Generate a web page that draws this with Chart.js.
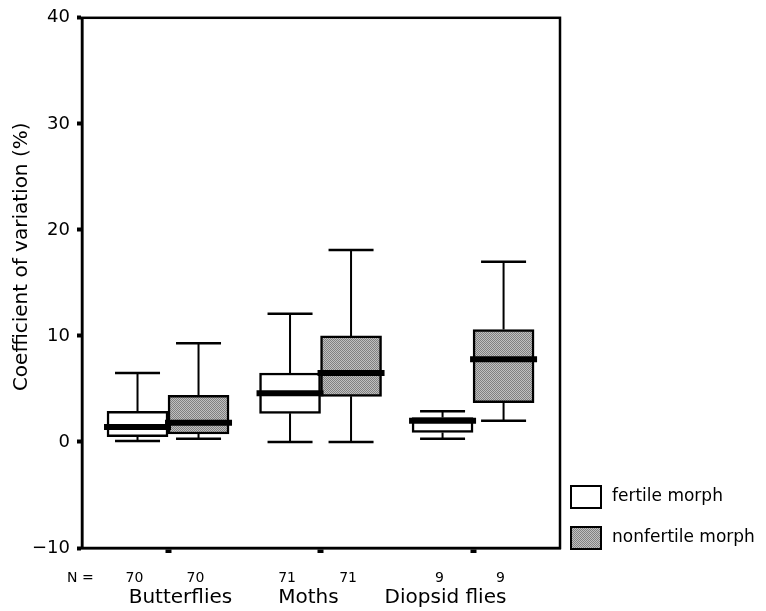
<!DOCTYPE html>
<html>
<head>
<meta charset="utf-8">
<script src="https://cdn.jsdelivr.net/npm/chart.js@4.4.1/dist/chart.umd.min.js"></script>
<style>
  html, body { margin: 0; padding: 0; background: #fff; }
  canvas { display: block; }
</style>
</head>
<body>
<canvas id="chart" width="766" height="611"></canvas>
<script>
// ---------------------------------------------------------------
// datos
// ---------------------------------------------------------------
const categories = ['Butterflies', 'Moths', 'Diopsid flies'];
const seriesNames = ['fertile morph', 'nonfertile morph'];

const fertileMin    = [0.1, 0.0, 0.3];
const fertileQ1     = [0.5, 2.7, 0.9];
const fertileMedian = [1.4, 4.6, 2.0];
const fertileQ3     = [2.9, 6.5, 2.3];
const fertileMax    = [6.5, 12.1, 2.9];

const nonfertileMin    = [0.3, 0.0, 2.0];
const nonfertileQ1     = [0.75, 4.3, 3.7];
const nonfertileMedian = [1.8, 6.5, 7.8];
const nonfertileQ3     = [4.4, 10.0, 10.6];
const nonfertileMax    = [9.3, 18.1, 17.0];

const fertileN    = [70, 71, 9];
const nonfertileN = [70, 71, 9];

const yMin = -10, yMax = 40, yStep = 10;

// ---------------------------------------------------------------
// estilo
// ---------------------------------------------------------------
const FONT = "'DejaVu Sans', sans-serif";
const BOX_W = 61;
const CAP_W = 45;
const OFFSET = 0.2;   // desplazamiento de cada caja respecto al centro del grupo

function makeGrayPattern() {
    const c = document.createElement('canvas');
    c.width = 2; c.height = 2;
    const g = c.getContext('2d');
    g.fillStyle = '#c0c0c0'; g.fillRect(0, 0, 2, 2);
    g.fillStyle = '#808080'; g.fillRect(0, 0, 1, 1); g.fillRect(1, 1, 1, 1);
    return document.getElementById('chart').getContext('2d').createPattern(c, 'repeat');
}
const GRAY = makeGrayPattern();

const boxes = [
    { min: fertileMin, q1: fertileQ1, med: fertileMedian, q3: fertileQ3, max: fertileMax, n: fertileN, dx: -OFFSET, fill: '#ffffff' },
    { min: nonfertileMin, q1: nonfertileQ1, med: nonfertileMedian, q3: nonfertileQ3, max: nonfertileMax, n: nonfertileN, dx: OFFSET, fill: GRAY }
];

// ---------------------------------------------------------------
// bigotes, medianas, marco, textos y leyenda
// ---------------------------------------------------------------
const boxplotPlugin = {
    id: 'boxplotExtras',
    afterDatasetsDraw(chart) {
        const ctx = chart.ctx;
        const xs = chart.scales.x, ys = chart.scales.y;
        ctx.save();
        ctx.strokeStyle = '#000';
        ctx.lineCap = 'butt';
        // bigotes
        boxes.forEach(b => {
            categories.forEach((c, i) => {
                const cx = xs.getPixelForValue(i + b.dx);
                const yMaxPx = ys.getPixelForValue(b.max[i]);
                const yMinPx = ys.getPixelForValue(b.min[i]);
                ctx.lineWidth = 2;
                ctx.beginPath();
                ctx.moveTo(cx, ys.getPixelForValue(b.q3[i]));
                ctx.lineTo(cx, yMaxPx);
                ctx.moveTo(cx, ys.getPixelForValue(b.q1[i]));
                ctx.lineTo(cx, yMinPx);
                ctx.stroke();
                ctx.lineWidth = 2.5;
                ctx.beginPath();
                ctx.moveTo(cx - CAP_W / 2, yMaxPx);
                ctx.lineTo(cx + CAP_W / 2, yMaxPx);
                ctx.moveTo(cx - CAP_W / 2, yMinPx);
                ctx.lineTo(cx + CAP_W / 2, yMinPx);
                ctx.stroke();
            });
        });
        // medianas
        boxes.forEach(b => {
            categories.forEach((c, i) => {
                const cx = xs.getPixelForValue(i + b.dx);
                const y = ys.getPixelForValue(b.med[i]);
                ctx.lineWidth = 6;
                ctx.beginPath();
                ctx.moveTo(cx - BOX_W / 2 - 3, y);
                ctx.lineTo(cx + BOX_W / 2 + 3, y);
                ctx.stroke();
            });
        });
        ctx.restore();
    },
    afterDraw(chart) {
        const ctx = chart.ctx;
        const area = chart.chartArea;
        const xs = chart.scales.x;
        ctx.save();
        // marco
        ctx.strokeStyle = '#000';
        ctx.lineWidth = 2.5;
        ctx.strokeRect(area.left, area.top, area.right - area.left, area.bottom - area.top);

        // titulo eje Y
        ctx.fillStyle = '#000';
        ctx.font = '20px ' + FONT;
        ctx.textAlign = 'center';
        ctx.textBaseline = 'middle';
        ctx.save();
        ctx.translate(22, area.top + 239);
        ctx.rotate(-Math.PI / 2);
        ctx.fillText('Coefficient of variation (%)', 0, 0);
        ctx.restore();

        // fila de N
        ctx.font = '14px ' + FONT;
        ctx.textBaseline = 'middle';
        ctx.textAlign = 'left';
        ctx.fillText('N =', area.left - 15, area.bottom + 30);
        ctx.textAlign = 'center';
        boxes.forEach(b => {
            categories.forEach((c, i) => {
                ctx.fillText(String(b.n[i]), xs.getPixelForValue(i + b.dx) - 3, area.bottom + 30);
            });
        });

        // etiquetas de categoria (una sola linea con separacion fija)
        ctx.font = '20px ' + FONT;
        const gap = 46;
        const widths = categories.map(c => ctx.measureText(c).width);
        const total = widths.reduce((a, w) => a + w, 0) + gap * (categories.length - 1);
        let x = xs.getPixelForValue(1) - 3 - total / 2;
        ctx.textAlign = 'left';
        categories.forEach((c, i) => {
            ctx.fillText(c, x, area.bottom + 50);
            x += widths[i] + gap;
        });

        // leyenda
        const lx = area.right + 11;
        const rows = [486, 527];
        ctx.font = '17px ' + FONT;
        seriesNames.forEach((name, k) => {
            ctx.fillStyle = boxes[k].fill;
            ctx.fillRect(lx, rows[k], 30, 22);
            ctx.lineWidth = 2;
            ctx.strokeStyle = '#000';
            ctx.strokeRect(lx, rows[k], 30, 22);
            ctx.fillStyle = '#000';
            ctx.fillText(name, lx + 41, rows[k] + 11);
        });
        ctx.restore();
    }
};

// ---------------------------------------------------------------
// grafico
// ---------------------------------------------------------------
const datasets = boxes.map((b, k) => ({
    label: seriesNames[k],
    data: categories.map((c, i) => ({ x: i + b.dx, y: [b.q1[i], b.q3[i]] })),
    backgroundColor: b.fill,
    borderColor: '#000',
    borderWidth: 2.5,
    borderSkipped: false,
    barThickness: BOX_W,
    grouped: false
}));

new Chart(document.getElementById('chart'), {
    type: 'bar',
    data: { datasets },
    options: {
        responsive: false,
        animation: false,
        layout: { padding: { left: 0, right: 206, top: 14, bottom: 58 } },
        plugins: {
            legend: { display: false },
            tooltip: { enabled: false }
        },
        scales: {
            x: {
                type: 'linear',
                min: -0.564,
                max: 2.57,
                offset: false,
                afterBuildTicks: s => { s.ticks = categories.map((c, i) => ({ value: i })); },
                afterFit: s => { s.height = 5; },
                ticks: { display: false },
                grid: { offset: false, drawOnChartArea: false, drawTicks: true, tickLength: 5, tickWidth: 6, color: '#000' },
                border: { display: true, color: '#000', width: 2.5 }
            },
            y: {
                min: yMin,
                max: yMax,
                afterFit: s => { s.width = 82; },
                ticks: {
                    stepSize: yStep,
                    color: '#000',
                    padding: 7,
                    font: { family: FONT, size: 18 },
                    callback: v => String(v).replace('-', '\u2212')
                },
                grid: { drawOnChartArea: false, drawTicks: true, tickLength: 5, tickWidth: 4, color: '#000' },
                border: { display: true, color: '#000', width: 2.5 }
            }
        }
    },
    plugins: [boxplotPlugin]
});
</script>
</body>
</html>
